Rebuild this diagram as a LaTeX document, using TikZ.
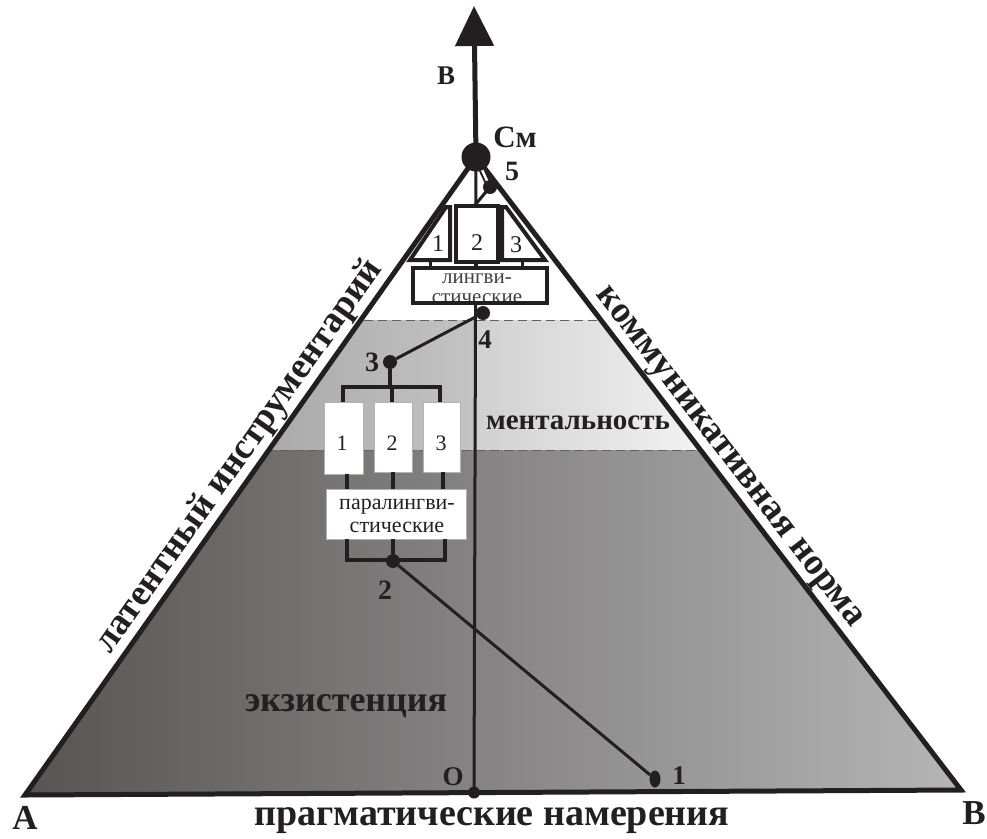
\documentclass[tikz,border=0pt]{standalone}
\usepackage{fontspec}
\setmainfont{Liberation Serif}
\usetikzlibrary{arrows.meta,shapes.geometric}
\definecolor{ink}{HTML}{231F20}
\definecolor{bandLa}{HTML}{A9A9A9}
\definecolor{bandLb}{HTML}{C3C3C3}
\definecolor{bandRa}{HTML}{D0D0D0}
\definecolor{bandRb}{HTML}{F3F3F3}
\definecolor{exA}{HTML}{575353}
\definecolor{exB}{HTML}{B6B6B6}
\newcommand\myfs[1]{\fontsize{#1}{#1}\selectfont}
\begin{document}
\begin{tikzpicture}[x=1pt,y=-1pt,
  edge/.style={line width=5pt, line join=miter, draw=ink},
  conn/.style={line width=3.5pt, draw=ink},
  link/.style={line width=3pt, draw=ink},
  bigdot/.style={circle, fill=ink, inner sep=0pt, minimum size=15pt},
  tbox/.style={draw=ink, line width=4pt, fill=white, inner sep=0pt},
  wbox/.style={draw=gray!60, line width=0.7pt, fill=white, inner sep=0pt},
  ptlbl/.style={font=\bfseries\myfs{28}, text=ink, inner sep=0pt},
  numlbl/.style={font=\myfs{23}, text=ink, inner sep=0pt},
  sidelbl/.style={font=\bfseries\myfs{37}, text=ink, inner sep=0pt},
  dashline/.style={draw=gray!75!black, line width=0.9pt, dash pattern=on 9pt off 5pt}
]
\useasboundingbox (0,0) rectangle (987,838);
% main points
\coordinate (P) at (476,157);
\coordinate (A) at (25,795);
\coordinate (B) at (961,790);
\coordinate (O) at (474,792.5);
\coordinate (Top) at (474,6);
% regions
\begin{scope}
  \clip (P) -- (A) -- (B) -- cycle;
  \shade[left color=bandLa, right color=bandLb] (262,320) rectangle (474,450);
  \shade[left color=bandRa, right color=bandRb] (474,320) rectangle (706,450);
  \shade[left color=exA, right color=exB] (20,450) rectangle (966,800);
  \draw[dashline] (0,320) -- (987,320);
  \draw[dashline] (0,450) -- (987,450);
\end{scope}
% axis and arrow
\draw[line width=3pt, draw=ink] (O) -- (P);
\draw[line width=5pt, draw=ink, -{Triangle[length=40pt,width=38pt]}] (P) -- (Top);
% triangle edges
\draw[edge] (P) -- (A) -- (B) -- cycle;
% edge labels
\path (A) -- (P) node[pos=0.512, sloped, above=3pt, sidelbl] {латентный инструментарий};
\path (P) -- (B) node[pos=0.492, sloped, above=3pt, sidelbl] {коммуникативная норма};
% point 5 and top linguistic block
\coordinate (p5) at (490,187);
\coordinate (tb2top) at (475,205);
\draw[draw=ink, line width=2pt, double=white, double distance=2.5pt] (P) -- (p5);
\draw[link] (p5) -- (tb2top);
\coordinate (t1a) at (410,260); \coordinate (t1b) at (450,260);
\coordinate (t1c) at (450,207); \coordinate (t1d) at (446,207);
\coordinate (t3a) at (502,207); \coordinate (t3b) at (506,207);
\coordinate (t3c) at (545,260); \coordinate (t3d) at (502,260);
\draw[draw=ink, line width=4pt, fill=white, line join=miter] (t1a) -- (t1b) -- (t1c) -- (t1d) -- cycle;
\draw[draw=ink, line width=4pt, fill=white, line join=miter] (t3a) -- (t3b) -- (t3c) -- (t3d) -- cycle;
\node[tbox, minimum width=42pt, minimum height=56pt] (tb2) at (476.5,233.5) {};
\node[numlbl, font=\myfs{24}] (n1t) at (438,244) {1};
\node[numlbl, font=\myfs{24}] (n2t) at (477,243) {2};
\node[numlbl, font=\myfs{24}] (n3t) at (516,245) {3};
\node[fill=white, inner sep=0pt, minimum width=134pt, minimum height=35pt] (ling) at (479.5,285) {};
\node[font=\fontsize{21}{20}\selectfont, text=black!75, align=center, inner sep=0pt] (lingtxt) at (477,289)
  {лингви-\\стические};
\draw[draw=ink, line width=4pt] (412.5,267.5) rectangle (546.5,302.5);
\draw[link] (430,260) -- (430,267);
\draw[link] (476,262) -- (476,267);
\draw[link] (522,260) -- (522,267);
% point 4 -> point 3
\node[bigdot, minimum size=14pt] (p4) at (483,313) {};
\node[bigdot, minimum size=14pt] (p3) at (390,362) {};
\draw[link] (p4) -- (p3);
% paralinguistic block
\node[wbox, minimum width=39pt, minimum height=72pt] (m1) at (343.5,438) {};
\node[wbox, minimum width=38pt, minimum height=70pt] (m2) at (393,437) {};
\node[wbox, minimum width=37pt, minimum height=70pt] (m3) at (441.5,437) {};
\node[numlbl, font=\myfs{22}] (n1m) at (342,443) {1};
\node[numlbl, font=\myfs{22}] (n2m) at (392,443) {2};
\node[numlbl, font=\myfs{22}] (n3m) at (441,443) {3};
\draw[conn, line join=miter] (p3) -- (390,387);
\draw[conn, line join=miter] (m1.north -| 343,0) -- (343,387) -- (440,387) -- (m3.north -| 440,0);
\draw[conn] (392,387) -- (m2.north -| 392,0);
\node[wbox, minimum width=140pt, minimum height=50pt] (para) at (396,514) {};
\node[font=\fontsize{22}{23}\selectfont, text=ink, align=center, inner sep=0pt] (paratxt) at (397,516)
  {паралингви-\\стические};
\draw[conn] (m1.south -| 347,0) -- (para.north -| 347,0);
\draw[conn] (m2.south -| 393,0) -- (para.north -| 393,0);
\draw[conn] (m3.south -| 443,0) -- (para.north -| 443,0);
\node[bigdot, minimum size=14pt] (p2) at (393,561) {};
\draw[conn, line join=miter] (para.south -| 347,0) -- (347,560) -- (445,560) -- (para.south -| 445,0);
\draw[conn] (para.south -| 393,0) -- (p2);
% point 2 -> point 1
\node[ellipse, fill=ink, inner sep=0pt, minimum width=11pt, minimum height=17pt] (p1) at (655,779) {};
\draw[link] (p2) -- (p1);
% dots on top
\node[bigdot, minimum size=29pt] (Sm) at (P) {};
\node[bigdot, minimum size=14pt] (p5d) at (p5) {};
\node[bigdot, minimum size=12pt] (Od) at (O) {};
% labels
\node[ptlbl, font=\bfseries\myfs{27}] (lB) at (446,76) {В};
\node[ptlbl, font=\bfseries\myfs{31}] (lSm) at (515,137) {См};
\node[ptlbl] (l5) at (512,171) {5};
\node[ptlbl, font=\bfseries\myfs{27}] (l4) at (485,340) {4};
\node[ptlbl] (l3) at (372,362) {3};
\node[ptlbl] (l2) at (385,590) {2};
\node[ptlbl, font=\bfseries\myfs{27}] (l1) at (679,776) {1};
\node[ptlbl, font=\bfseries\myfs{27}] (lO) at (453,777) {О};
\node[ptlbl, font=\bfseries\myfs{35}, anchor=base, text depth=0pt] (lA) at (25,829) {А};
\node[ptlbl, font=\bfseries\myfs{35}, anchor=base, text depth=0pt] (lBv) at (974,824) {В};
\node[ptlbl, font=\bfseries\myfs{38}] (lprag) at (492,821) {прагматические намерения};
\node[ptlbl, font=\bfseries\myfs{29}] (lment) at (578,423) {ментальность};
\node[ptlbl, font=\bfseries\myfs{36}] (lex) at (346,706) {экзистенция};
\end{tikzpicture}
\end{document}
